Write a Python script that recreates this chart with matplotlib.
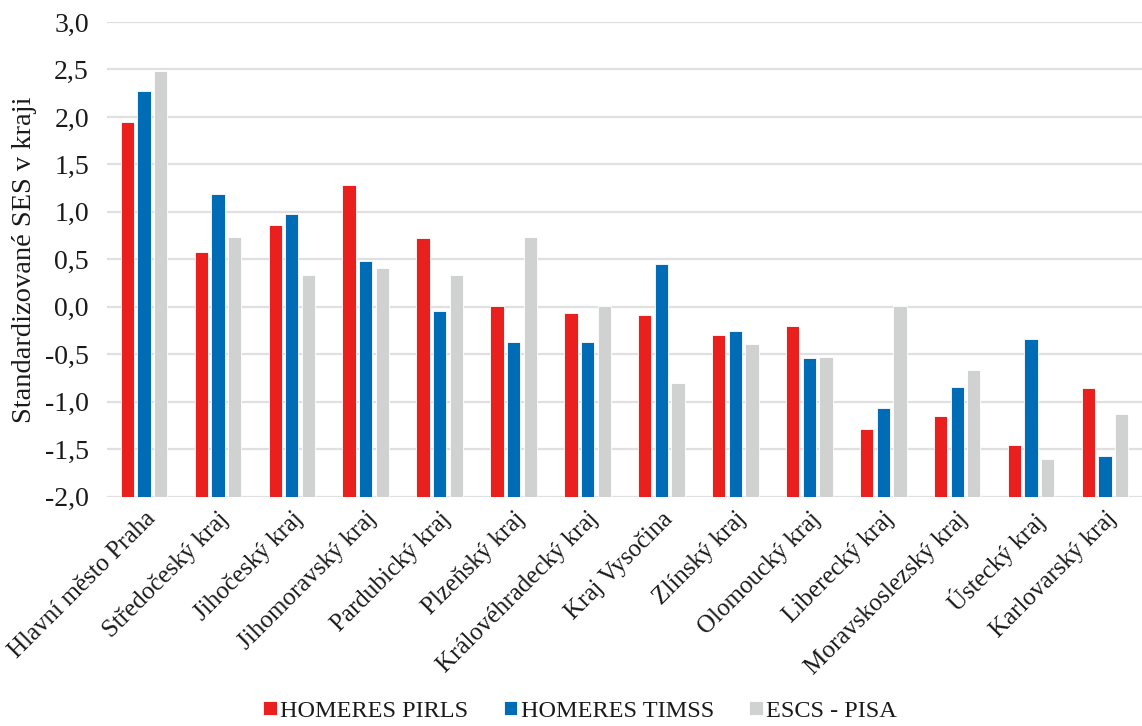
import matplotlib
matplotlib.use("Agg")
import matplotlib.pyplot as plt
import numpy as np
from matplotlib.ticker import FuncFormatter

regions = ["Hlavní město Praha", "Středočeský kraj", "Jihočeský kraj", "Jihomoravský kraj",
           "Pardubický kraj", "Plzeňský kraj", "Královéhradecký kraj", "Kraj Vysočina",
           "Zlínský kraj", "Olomoucký kraj", "Liberecký kraj", "Moravskoslezský kraj",
           "Ústecký kraj", "Karlovarský kraj"]
pirls = [1.95, 0.58, 0.86, 1.28, 0.72, 0.01, -0.06, -0.09, -0.30, -0.20, -1.29, -1.15, -1.46, -0.86]
timss = [2.27, 1.19, 0.98, 0.48, -0.04, -0.37, -0.37, 0.45, -0.25, -0.54, -1.07, -0.84, -0.34, -1.57]
pisa = [2.48, 0.74, 0.34, 0.41, 0.34, 0.74, 0.01, -0.80, -0.39, -0.53, 0.01, -0.66, -1.60, -1.13]
series_names = ["HOMERES PIRLS", "HOMERES TIMSS", "ESCS - PISA"]
colors = ["#E9201D", "#006CB5", "#D0D1D1"]
ymin, ymax = -2.0, 3.0

plt.rcParams['font.family'] = ['Liberation Serif', 'DejaVu Serif']

fig = plt.figure(figsize=(11.42, 7.26), dpi=100)
ax = fig.add_axes([0.0937, 0.3158, 0.9063, 0.6539])

x = np.arange(len(regions))
w = 0.18
offs = [-0.225, 0.0, 0.225]
for vals, off, c, name in zip([pirls, timss, pisa], offs, colors, series_names):
    v = np.array(vals)
    ax.bar(x + off, v - ymin, bottom=ymin, width=w, color=c, edgecolor="white",
           linewidth=0.6, label=name, zorder=3)

ax.set_ylim(ymin, ymax)
ax.set_xlim(-0.5, len(regions) - 0.5)
ax.set_yticks(np.arange(-2.0, 3.01, 0.5))
ax.yaxis.set_major_formatter(FuncFormatter(lambda v, p: f"{v:.1f}".replace(".", ",")))
ax.grid(axis="y", color="#E0E0E0", linewidth=1.6, zorder=0)
for s in ax.spines.values():
    s.set_visible(False)
ax.tick_params(axis="both", length=0, colors="#1a1a1a")
ax.tick_params(axis="y", pad=13, labelsize=20)
ax.set_xticks(x)
ax.set_xticklabels(regions, rotation=45, ha="right", rotation_mode="anchor")
ax.tick_params(axis="x", pad=8, labelsize=18)
ax.set_ylabel("Standardizované SES v kraji", fontsize=20.5, labelpad=6, color="#1a1a1a")

leg = fig.legend(loc="lower center", bbox_to_anchor=(0.508, -0.024), ncol=3, frameon=False,
                 fontsize=17.5, handlelength=0.55, handleheight=0.55, handletextpad=0.15,
                 columnspacing=1.45)
for t in leg.get_texts():
    t.set_color("#1a1a1a")

fig.savefig("out.png", dpi=100)
